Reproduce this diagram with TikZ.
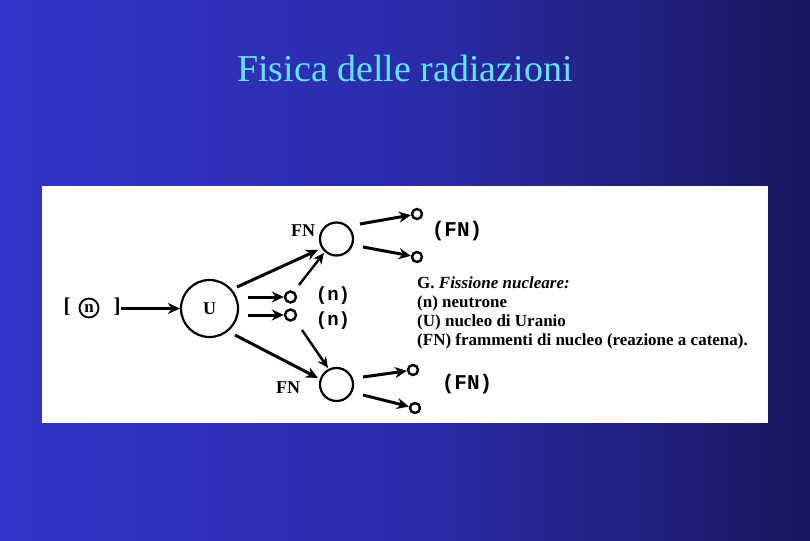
\documentclass[tikz,border=0pt]{standalone}
\usepackage{fontspec}
\setmainfont{Liberation Serif}
\setmonofont{Liberation Mono}
\usetikzlibrary{arrows.meta}
\definecolor{bgleft}{RGB}{51,51,204}
\definecolor{bgmid}{RGB}{44,44,172}
\definecolor{bgright}{RGB}{24,24,96}
\definecolor{titlecol}{RGB}{95,230,245}
\tikzset{
  arr/.style={line width=3pt,-{Stealth[length=12pt,width=11pt]}},
  thinarr/.style={line width=2.4pt,-{Stealth[length=11pt,width=10pt]}},
  bigc/.style={circle,draw,line width=2.2pt,inner sep=0pt},
  smallc/.style={circle,draw,line width=2.4pt,inner sep=0pt,minimum size=10pt},
  lbl/.style={font=\bfseries\fontsize{18}{18}\selectfont,inner sep=0pt},
  lblb/.style={font=\ttfamily\bfseries\fontsize{21}{21}\selectfont,inner sep=0pt},
  lbln/.style={font=\ttfamily\bfseries\fontsize{19}{19}\selectfont,inner sep=0pt},
  legend/.style={font=\bfseries\fontsize{17}{19}\selectfont,anchor=base west,inner sep=0pt},
}
\begin{document}
\begin{tikzpicture}[x=1pt,y=-1pt]
\useasboundingbox (0,0) rectangle (810,540);
\shade[left color=bgleft,right color=bgright,middle color=bgmid] (0,0) rectangle (810,540);
\node[font=\fontsize{38}{38}\selectfont,text=titlecol,inner sep=0pt] (title) at (405,69) {Fisica delle radiazioni};
\fill[white] (42,186) rectangle (768,423);
% incoming neutron
\node[lbl,font=\bfseries\fontsize{21}{21}\selectfont] (lb) at (67,307) {[};
\node[bigc,minimum size=19pt,line width=1.8pt,lbl,font=\bfseries\fontsize{17}{17}\selectfont] (n0) at (89,308) {n};
\node[lbl,font=\bfseries\fontsize{21}{21}\selectfont] (rb) at (117,307) {]};
\node[bigc,minimum size=57pt,lbl] (U) at (209.5,308.5) {U};
\draw[arr] (rb.east |- U.west) -- (U.west);
% fragments
\node[bigc,minimum size=33pt] (F1) at (336.5,239) {};
\node[bigc,minimum size=33pt] (F2) at (336.5,384.5) {};
\node[lbl] (F1l) at (303,231) {FN};
\node[lbl] (F2l) at (288,388) {FN};
% neutrons
\node[smallc,minimum size=11pt] (s1) at (290.5,297) {};
\node[smallc,minimum size=11pt] (s2) at (290.5,315) {};
\node[lbln] (s1l) at (333,296) {(n)};
\node[lbln] (s2l) at (333,321) {(n)};
\coordinate (u1) at (248,297);
\coordinate (u2) at (248,315);
\draw[arr] (u1) -- (s1);
\draw[arr] (u2) -- (s2);
\coordinate (ua) at (237,287);
\coordinate (ub) at (235,335);
\coordinate (f1in) at (318,250);
\coordinate (f2in) at (318,378);
\draw[arr] (ua) -- (f1in);
\draw[arr] (ub) -- (f2in);
\coordinate (s1o) at (299,285);
\coordinate (s2o) at (302,330);
\coordinate (f1in2) at (324,253);
\coordinate (f2in2) at (328,368);
\draw[thinarr] (s1o) -- (f1in2);
\draw[thinarr] (s2o) -- (f2in2);
% second generation
\node[smallc] (t1) at (417,214) {};
\node[smallc] (t2) at (417,257) {};
\node[smallc] (t3) at (413,370) {};
\node[smallc] (t4) at (415,408) {};
\coordinate (a1) at (360,224);
\coordinate (a2) at (363,247);
\coordinate (a3) at (363,377);
\coordinate (a4) at (363,395);
\draw[arr] (a1) -- (t1);
\draw[arr] (a2) -- (t2);
\draw[arr] (a3) -- (t3);
\draw[arr] (a4) -- (t4);
\node[lblb] (fnA) at (457,231) {(FN)};
\node[lblb] (fnB) at (467,384) {(FN)};
% legend
\node[legend] (g1) at (417,288) {G. \textit{Fissione nucleare:}};
\node[legend] (g2) at (417,307) {(n) neutrone};
\node[legend] (g3) at (417,326) {(U) nucleo di Uranio};
\node[legend] (g4) at (417,345) {(FN) frammenti di nucleo (reazione a catena).};
\end{tikzpicture}
\end{document}
